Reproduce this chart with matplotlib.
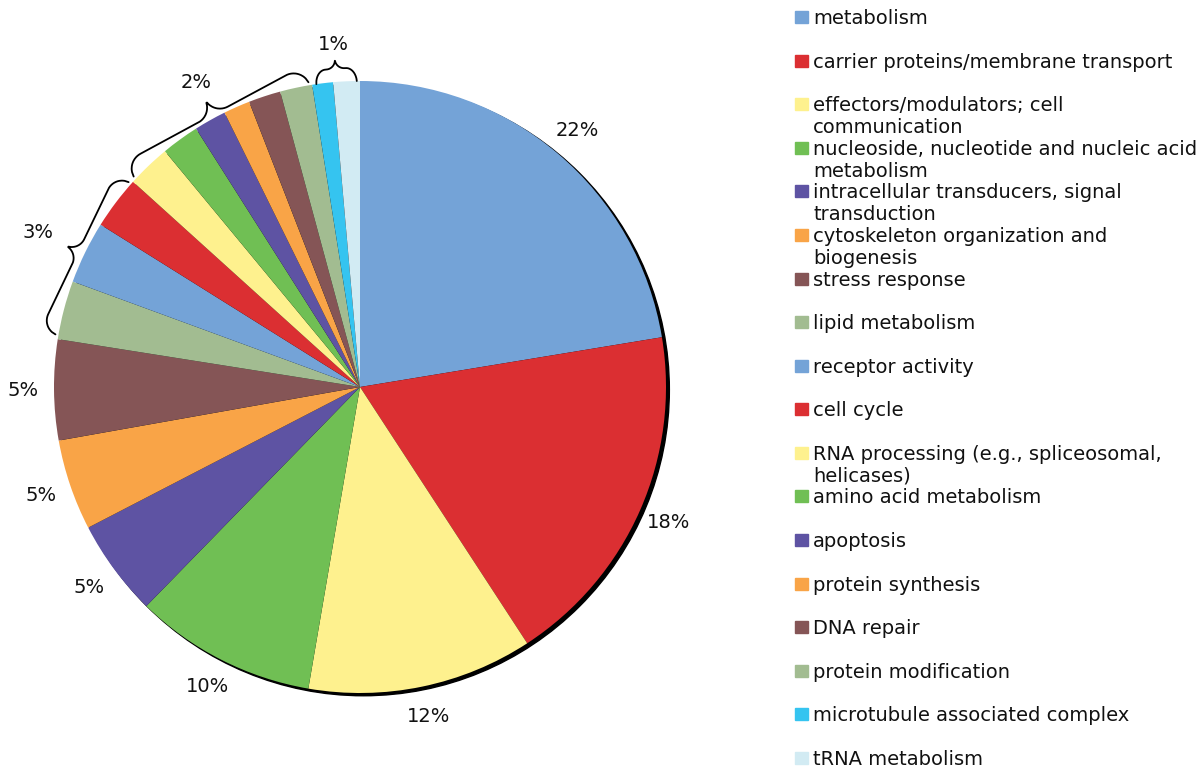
import numpy as np
import matplotlib
matplotlib.use('Agg')
import matplotlib.pyplot as plt
from matplotlib.patches import Circle, Rectangle

categories = [
    'metabolism',
    'carrier proteins/membrane transport',
    'effectors/modulators; cell\ncommunication',
    'nucleoside, nucleotide and nucleic acid\nmetabolism',
    'intracellular transducers, signal\ntransduction',
    'cytoskeleton organization and\nbiogenesis',
    'stress response',
    'lipid metabolism',
    'receptor activity',
    'cell cycle',
    'RNA processing (e.g., spliceosomal,\nhelicases)',
    'amino acid metabolism',
    'apoptosis',
    'protein synthesis',
    'DNA repair',
    'protein modification',
    'microtubule associated complex',
    'tRNA metabolism',
]
shares = [22.4, 18.4, 11.9, 9.6, 5.1, 4.8, 5.3, 3.1, 3.3, 2.8,
          2.3, 2.0, 1.7, 1.4, 1.7, 1.7, 1.1, 1.4]
colors = ['#74A3D7', '#DB2F32', '#FEF18E', '#70BF54', '#5E53A3', '#F9A447',
          '#855556', '#A2BC91', '#74A3D7', '#DB2F32', '#FEF18E', '#70BF54',
          '#5E53A3', '#F9A447', '#855556', '#A2BC91', '#35C4F0', '#D2EBF3']

# small slices are labelled in groups with a brace
group_labels = ['3%', '2%', '1%']
group_ranges = [(7, 10), (10, 16), (16, 18)]

W, H = 1202, 770
FS = 14
plt.rcParams['font.family'] = ['DejaVu Sans']


def brace(ax, a1, a2, r, hook, tip):
    p1 = r * np.array([np.cos(np.radians(a1)), np.sin(np.radians(a1))])
    p2 = r * np.array([np.cos(np.radians(a2)), np.sin(np.radians(a2))])
    L = np.linalg.norm(p2 - p1)
    ux = (p2 - p1) / L
    mid = np.radians((a1 + a2) / 2)
    nrm = np.array([-ux[1], ux[0]])
    if nrm @ np.array([np.cos(mid), np.sin(mid)]) < 0:
        nrm = -nrm
    half = L / 2
    c1 = min(hook, half / 2)
    c2 = min(tip, half / 2)
    u = np.linspace(0, L, 300)
    s = np.minimum(u, L - u)
    v = np.where(s < c1, hook * np.sqrt(np.clip(1 - (1 - s / c1) ** 2, 0, 1)), hook)
    t = (s - (half - c2)) / c2
    v = v + np.where(t > 0, tip * (1 - np.sqrt(np.clip(1 - t ** 2, 0, 1))), 0)
    pts = p1[None, :] + u[:, None] * ux[None, :] + v[:, None] * nrm[None, :]
    ax.plot(pts[:, 0], pts[:, 1], color='black', lw=1.3, solid_capstyle='round')
    return p1 + half * ux + (hook + tip) * nrm, np.array([np.cos(mid), np.sin(mid)])


fig = plt.figure(figsize=(W / 100, H / 100), dpi=100)

# pie axes: centre at (360, 387) px, radius 306 px
R = 306
cx, cy = 360, 387
half_px = 360
ax = fig.add_axes([(cx - half_px) / W, (H - cy - half_px) / H, 2 * half_px / W, 2 * half_px / H])
lim = half_px / R
ax.axis('off')

# black shadow behind the pie
ax.add_patch(Circle((0.011, -0.009), 1.0, color='black', zorder=0))

wedges, texts, autotexts = ax.pie(
    shares, colors=colors, startangle=90, counterclock=False, radius=1.0,
    autopct=lambda p: f'{p:.0f}%' if p > 4 else '', pctdistance=1.10,
    wedgeprops=dict(linewidth=0),
    textprops=dict(fontsize=FS, color='#111111'), frame=False)
for w in wedges:
    w.set_zorder(1)
ax.set_xlim(-lim, lim)
ax.set_ylim(-lim, lim)
ax.set_aspect('auto')

# braces for grouped small slices
cum = np.concatenate([[0], np.cumsum(shares)]) / sum(shares)
angles = 90 - 360 * cum
brace_style = [(1.01, 0.05, 0.045, 0.1), (1.01, 0.055, 0.055, 0.065), (1.0, 0.045, 0.03, 0.05)]
for lab, (i0, i1), (r, hk, tp, off) in zip(group_labels, group_ranges, brace_style):
    a1 = angles[i0] - 0.8
    a2 = angles[i1] + 0.6
    tip_pt, d = brace(ax, a1, a2, r, hk, tp)
    pos = tip_pt + off * d
    ax.text(pos[0], pos[1], lab, ha='center', va='center', fontsize=FS, color='#111111')

# legend on the right, drawn by hand to match spacing
base0 = 24
step = (765 - 24) / 17
for i, (lab, c) in enumerate(zip(categories, colors)):
    yb = base0 + i * step
    fig.patches.append(Rectangle((795 / W, 1 - (yb - 1) / H), 13 / W, 12 / H,
                                 transform=fig.transFigure, color=c, figure=fig))
    for k, line in enumerate(lab.split('\n')):
        fig.text(813 / W, 1 - (yb + 22 * k) / H, line, ha='left', va='baseline',
                 fontsize=FS, color='#111111')

fig.savefig('out.png', dpi=100)
